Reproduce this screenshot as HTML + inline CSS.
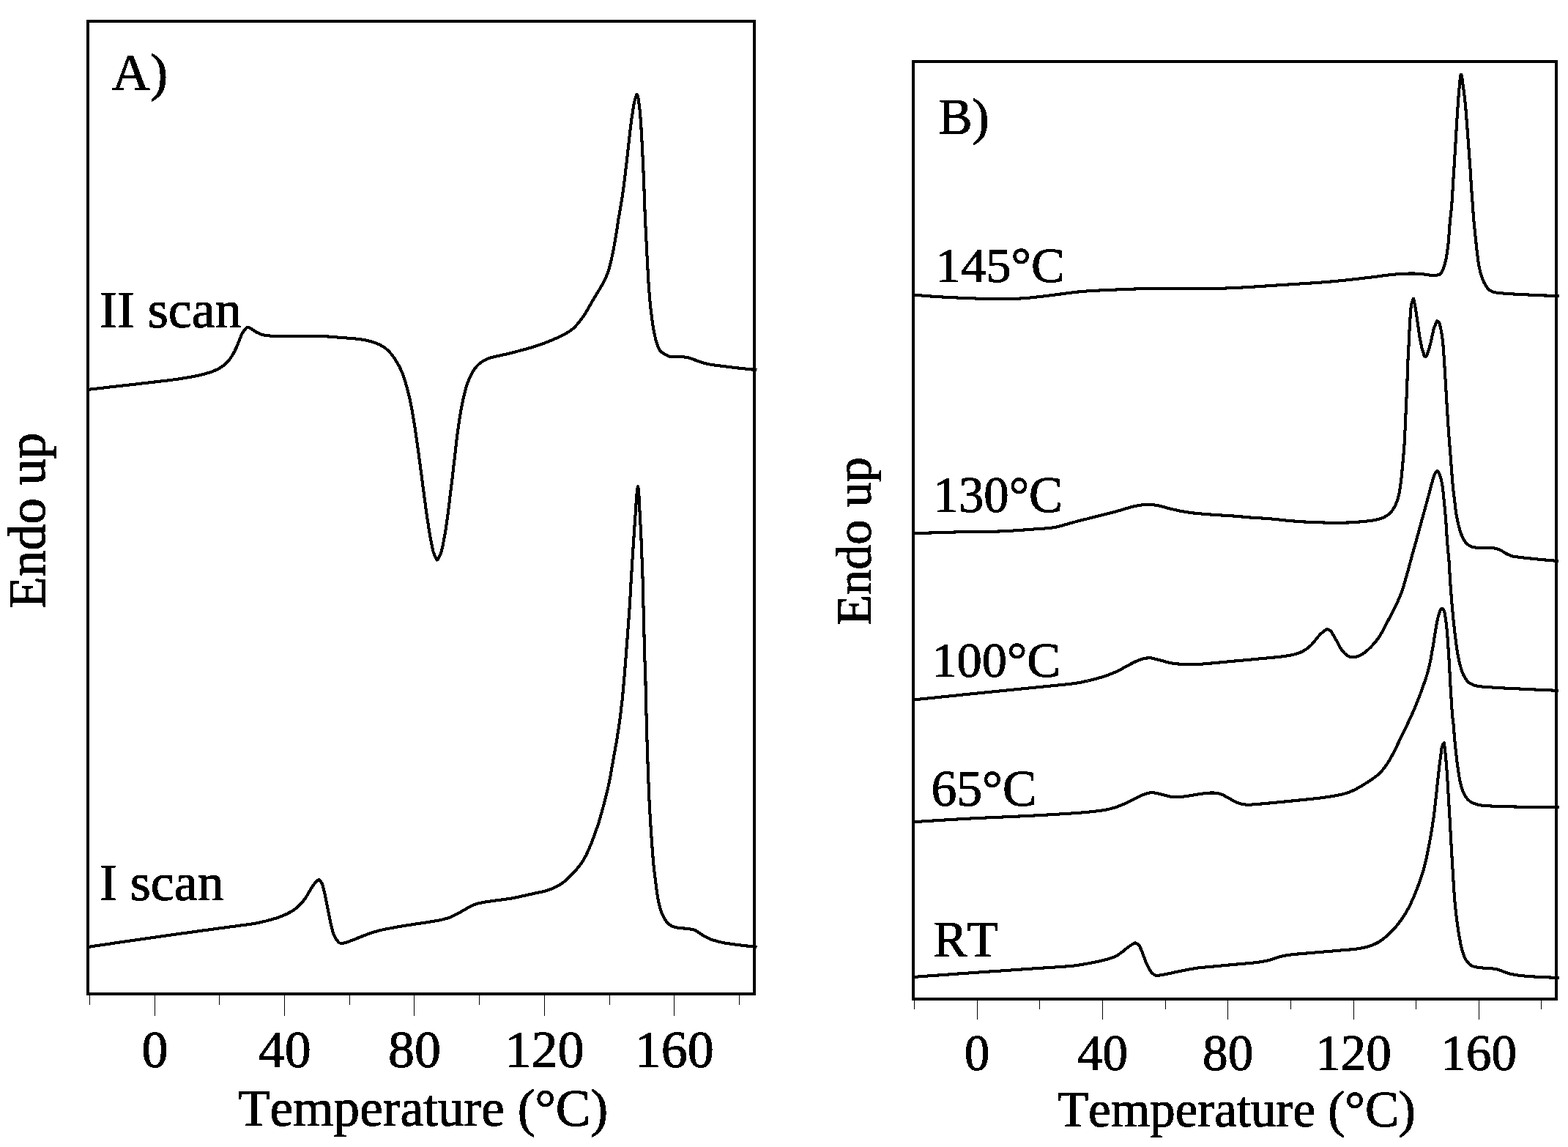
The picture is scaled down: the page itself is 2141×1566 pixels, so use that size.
<!DOCTYPE html>
<html lang="en">
<head>
<meta charset="utf-8">
<title>DSC thermograms</title>
<style>
html,body{margin:0;padding:0;background:#fff;}
body{width:2141px;height:1566px;overflow:hidden;}
svg{display:block;}
text{font-family:"Liberation Serif",serif;fill:#000;font-kerning:none;}
.frame{fill:none;stroke:#000;stroke-width:4;shape-rendering:crispEdges;}
.tick{fill:#000;shape-rendering:crispEdges;}
.curve{fill:none;stroke:#000;stroke-width:4.10;stroke-linejoin:round;stroke-linecap:butt;shape-rendering:crispEdges;}
text{filter:url(#bin);stroke:#000;stroke-width:1.1px;stroke-linejoin:round;}
</style>
</head>
<body>
<svg width="2141" height="1566" viewBox="0 0 2141 1566">
<rect x="0" y="0" width="2141" height="1566" fill="#fff"/>
<defs><filter id="bin" x="-5%" y="-20%" width="110%" height="140%" color-interpolation-filters="sRGB"><feComponentTransfer><feFuncA type="discrete" tableValues="0 1"/></feComponentTransfer></filter></defs>
<g id="panel-A">
<path class="curve" d="M120.0,531.9C121.7,531.7 126.6,531.2 129.9,530.8C133.2,530.4 136.6,530.0 139.9,529.7C143.2,529.3 146.5,528.9 149.8,528.5C153.1,528.2 156.4,527.8 159.7,527.4C163.1,527.0 166.4,526.6 169.7,526.3C173.0,525.9 176.3,525.5 179.6,525.1C182.9,524.8 186.2,524.4 189.6,524.0C192.9,523.6 196.2,523.2 199.5,522.9C202.8,522.5 206.1,522.1 209.4,521.7C212.7,521.3 216.0,520.9 219.4,520.5C222.7,520.2 226.0,519.8 229.3,519.4C232.6,519.0 235.9,518.5 239.2,518.1C242.5,517.6 245.8,517.1 249.1,516.6C252.4,516.1 255.7,515.5 258.9,514.9C262.2,514.3 265.5,513.8 268.8,513.1C272.0,512.4 275.3,511.7 278.5,510.8C281.7,509.9 284.9,509.0 288.1,507.9C291.2,506.7 294.3,505.5 297.3,504.0C300.2,502.5 303.1,500.7 305.7,498.6C308.3,496.6 310.7,494.2 312.8,491.6C314.9,489.1 316.6,486.2 318.3,483.3C320.0,480.5 321.4,477.5 322.8,474.4C324.2,471.4 325.3,468.2 326.6,465.2C327.8,462.1 328.7,458.8 330.3,456.0C331.9,453.1 334.9,449.3 336.2,447.8C337.4,446.4 337.4,447.3 338.0,447.2C338.6,447.1 339.2,447.1 339.9,447.3C340.5,447.4 341.0,447.6 341.7,448.0C342.5,448.4 342.8,448.8 344.3,449.7C345.7,450.7 347.9,452.5 350.5,453.8C353.1,455.1 356.5,456.6 359.7,457.4C362.9,458.2 366.3,458.4 369.6,458.6C372.9,458.9 376.2,458.8 379.6,458.9C382.9,458.9 386.2,458.9 389.6,458.9C392.9,458.9 396.2,459.0 399.6,459.0C402.9,459.0 406.2,459.0 409.6,459.0C412.9,459.0 416.2,459.0 419.6,459.0C422.9,459.0 426.2,459.0 429.6,459.1C432.9,459.1 436.2,459.1 439.6,459.2C442.9,459.3 446.2,459.4 449.6,459.6C452.9,459.8 456.2,460.1 459.5,460.4C462.9,460.7 466.2,461.0 469.5,461.2C472.8,461.5 476.2,461.7 479.5,462.0C482.8,462.3 486.1,462.5 489.4,462.9C492.7,463.3 496.0,463.8 499.3,464.5C502.6,465.2 505.8,465.9 509.0,466.9C512.1,467.9 515.3,469.1 518.3,470.6C521.2,472.0 524.1,473.8 526.7,475.8C529.3,477.9 531.7,480.3 533.8,482.8C536.0,485.3 537.8,488.1 539.7,490.9C541.5,493.7 543.2,496.6 544.8,499.5C546.4,502.4 547.7,505.5 549.0,508.6C550.3,511.7 551.4,514.8 552.4,518.0C553.5,521.1 554.4,524.4 555.2,527.6C556.1,530.8 556.9,534.0 557.7,537.3C558.5,540.5 559.3,543.7 560.0,547.0C560.7,550.3 561.3,553.5 561.9,556.8C562.6,560.1 563.1,563.4 563.7,566.6C564.3,569.9 564.9,573.2 565.4,576.5C565.9,579.8 566.5,583.1 567.0,586.4C567.5,589.7 567.9,593.0 568.4,596.3C568.9,599.6 569.3,602.9 569.8,606.2C570.2,609.5 570.7,612.8 571.1,616.1C571.6,619.4 572.0,622.7 572.5,626.0C572.9,629.3 573.4,632.6 573.8,635.9C574.2,639.2 574.7,642.5 575.1,645.8C575.6,649.1 576.0,652.4 576.4,655.7C576.9,659.0 577.3,662.3 577.7,665.7C578.2,669.0 578.6,672.3 579.0,675.6C579.5,678.9 579.9,682.2 580.4,685.5C580.8,688.8 581.2,692.1 581.7,695.4C582.2,698.7 582.6,702.0 583.1,705.3C583.6,708.6 584.1,711.9 584.6,715.2C585.1,718.5 585.6,721.8 586.1,725.1C586.6,728.4 587.2,731.6 587.8,734.9C588.4,738.2 589.0,741.5 589.7,744.7C590.4,748.0 590.9,751.2 591.9,754.4C593.0,757.6 595.4,762.2 596.3,763.8C597.1,765.4 596.6,764.1 596.8,764.1C597.0,764.2 597.2,764.1 597.4,764.0C597.6,763.9 597.7,763.8 597.9,763.5C598.1,763.3 598.3,763.0 598.5,762.7C598.7,762.4 598.8,762.3 599.1,761.7C599.3,761.2 599.6,760.8 600.1,759.6C600.6,758.4 601.5,756.9 602.2,754.4C603.0,751.9 603.9,747.9 604.6,744.7C605.3,741.5 605.8,738.2 606.5,734.9C607.1,731.6 607.7,728.4 608.2,725.1C608.8,721.8 609.3,718.5 609.7,715.2C610.2,711.9 610.6,708.6 611.1,705.3C611.5,702.0 612.0,698.7 612.4,695.4C612.8,692.1 613.2,688.7 613.6,685.4C614.0,682.1 614.4,678.8 614.8,675.5C615.2,672.2 615.6,668.9 616.0,665.6C616.4,662.3 616.8,659.0 617.2,655.7C617.6,652.3 618.0,649.0 618.4,645.7C618.8,642.4 619.2,639.1 619.5,635.8C619.9,632.5 620.3,629.2 620.7,625.9C621.1,622.5 621.4,619.2 621.8,615.9C622.2,612.6 622.5,609.3 622.9,606.0C623.3,602.7 623.7,599.4 624.1,596.1C624.5,592.7 624.9,589.4 625.4,586.1C625.8,582.8 626.3,579.5 626.8,576.2C627.3,572.9 627.8,569.7 628.4,566.4C628.9,563.1 629.4,559.8 630.0,556.5C630.7,553.2 631.3,550.0 632.1,546.7C632.8,543.5 633.5,540.2 634.3,537.0C635.2,533.7 636.0,530.5 637.0,527.3C638.0,524.2 639.1,521.0 640.4,517.9C641.7,514.9 643.0,511.8 644.7,508.9C646.3,506.0 648.2,503.2 650.4,500.7C652.6,498.2 655.1,495.9 657.8,494.1C660.6,492.2 663.7,490.8 666.7,489.6C669.8,488.3 673.1,487.6 676.3,486.8C679.6,486.0 682.9,485.4 686.1,484.7C689.4,484.0 692.6,483.2 695.8,482.4C699.1,481.6 702.3,480.8 705.5,479.9C708.7,479.1 712.0,478.2 715.2,477.4C718.4,476.5 721.6,475.6 724.8,474.6C728.0,473.7 731.2,472.7 734.3,471.6C737.5,470.6 740.7,469.5 743.8,468.3C746.9,467.1 750.0,465.9 753.1,464.6C756.1,463.3 759.2,462.0 762.2,460.6C765.2,459.2 768.3,457.8 771.2,456.2C774.1,454.6 777.1,452.9 779.7,450.9C782.3,448.9 784.8,446.6 787.0,444.1C789.3,441.7 791.4,439.0 793.4,436.3C795.4,433.7 797.2,430.9 799.0,428.1C800.8,425.3 802.4,422.4 804.1,419.5C805.8,416.6 807.3,413.6 809.0,410.8C810.7,407.9 812.5,405.1 814.2,402.2C815.9,399.4 817.7,396.6 819.4,393.7C821.1,390.8 822.8,387.9 824.3,385.0C825.8,382.0 827.3,379.0 828.5,375.9C829.8,372.8 830.8,369.6 831.7,366.4C832.7,363.2 833.4,360.0 834.2,356.7C835.0,353.5 835.7,350.2 836.4,347.0C837.0,343.7 837.7,340.4 838.3,337.2C838.9,333.9 839.5,330.6 840.1,327.3C840.6,324.0 841.2,320.8 841.7,317.5C842.3,314.2 842.7,310.9 843.2,307.6C843.7,304.3 844.2,301.0 844.7,297.7C845.3,294.4 845.9,291.1 846.5,287.8C847.0,284.6 847.6,281.3 848.2,278.0C848.7,274.7 849.2,271.4 849.7,268.1C850.2,264.8 850.6,261.5 851.1,258.2C851.6,254.9 852.0,251.6 852.4,248.3C852.8,245.0 853.2,241.7 853.6,238.4C854.0,235.1 854.4,231.8 854.8,228.4C855.2,225.1 855.6,221.8 855.9,218.5C856.3,215.2 856.7,211.9 857.1,208.6C857.4,205.3 857.8,201.9 858.2,198.6C858.6,195.3 858.9,192.0 859.3,188.7C859.7,185.4 860.0,182.1 860.4,178.8C860.8,175.4 861.2,172.1 861.6,168.8C862.0,165.5 862.5,162.2 862.9,158.9C863.4,155.6 864.0,152.3 864.5,149.0C865.0,145.8 865.5,142.5 866.2,139.2C867.0,136.0 868.4,131.3 869.0,129.7C869.5,128.0 869.4,129.4 869.6,129.5C869.7,129.5 869.9,129.7 870.1,129.9C870.3,130.1 870.4,130.5 870.6,130.8C870.7,131.1 870.9,131.5 871.0,131.8C871.1,132.2 871.2,132.3 871.3,132.8C871.4,133.3 871.5,133.7 871.6,134.8C871.8,136.0 872.0,137.2 872.3,139.6C872.6,142.1 873.2,146.2 873.5,149.5C873.9,152.8 874.2,156.2 874.4,159.5C874.7,162.8 874.9,166.1 875.1,169.5C875.4,172.8 875.6,176.1 875.7,179.4C875.9,182.8 876.1,186.1 876.3,189.4C876.5,192.8 876.7,196.1 876.8,199.4C877.0,202.7 877.2,206.1 877.3,209.4C877.5,212.7 877.7,216.1 877.8,219.4C878.0,222.7 878.2,226.0 878.3,229.4C878.5,232.7 878.6,236.0 878.7,239.4C878.9,242.7 879.0,246.0 879.1,249.4C879.3,252.7 879.4,256.0 879.5,259.4C879.6,262.7 879.7,266.0 879.8,269.3C879.9,272.7 880.0,276.0 880.2,279.3C880.3,282.7 880.4,286.0 880.6,289.3C880.7,292.7 880.9,296.0 881.0,299.3C881.2,302.7 881.3,306.0 881.5,309.3C881.7,312.6 881.8,316.0 882.0,319.3C882.1,322.6 882.3,326.0 882.5,329.3C882.7,332.6 882.8,335.9 883.0,339.3C883.2,342.6 883.3,345.9 883.5,349.3C883.7,352.6 883.9,355.9 884.0,359.2C884.2,362.6 884.4,365.9 884.6,369.2C884.8,372.6 884.9,375.9 885.1,379.2C885.3,382.5 885.5,385.9 885.7,389.2C886.0,392.5 886.2,395.8 886.5,399.2C886.7,402.5 887.0,405.8 887.3,409.1C887.6,412.5 887.9,415.8 888.3,419.1C888.6,422.4 889.0,425.7 889.4,429.0C889.8,432.3 890.2,435.6 890.7,438.9C891.1,442.2 891.6,445.5 892.2,448.8C892.8,452.1 893.4,455.4 894.2,458.6C894.9,461.9 895.6,465.2 896.7,468.3C897.7,471.4 899.3,475.3 900.5,477.5C901.8,479.6 902.3,479.9 904.3,481.4C906.4,482.9 910.6,485.5 912.8,486.3C915.0,487.2 915.3,486.5 917.8,486.6C920.2,486.8 924.4,486.9 927.7,487.1C931.0,487.3 934.5,487.3 937.7,487.9C940.8,488.5 943.6,489.6 946.7,490.7C949.8,491.7 952.9,493.1 956.1,494.2C959.2,495.2 962.5,496.1 965.7,496.9C968.9,497.6 972.3,498.0 975.6,498.5C978.9,499.0 982.2,499.4 985.5,499.8C988.8,500.2 992.1,500.6 995.4,501.0C998.7,501.4 1002.0,501.8 1005.3,502.2C1008.7,502.6 1012.0,502.9 1015.3,503.3C1018.6,503.6 1022.2,504.0 1025.2,504.3C1028.2,504.7 1032.0,505.0 1033.3,505.2"/>
<path class="curve" d="M120.0,1293.0C121.6,1292.8 126.6,1292.0 129.9,1291.5C133.2,1291.0 136.5,1290.5 139.8,1290.0C143.1,1289.6 146.4,1289.1 149.7,1288.6C153.0,1288.1 156.3,1287.6 159.6,1287.1C162.9,1286.6 166.2,1286.1 169.5,1285.7C172.8,1285.2 176.1,1284.7 179.4,1284.2C182.7,1283.7 186.0,1283.3 189.3,1282.8C192.6,1282.3 195.9,1281.8 199.2,1281.4C202.5,1280.9 205.8,1280.4 209.1,1280.0C212.4,1279.5 215.7,1279.0 219.0,1278.6C222.3,1278.1 225.6,1277.6 228.9,1277.2C232.2,1276.7 235.5,1276.3 238.8,1275.8C242.1,1275.3 245.4,1274.9 248.7,1274.4C252.0,1274.0 255.3,1273.5 258.6,1273.0C261.9,1272.6 265.2,1272.1 268.5,1271.6C271.8,1271.2 275.1,1270.7 278.4,1270.3C281.7,1269.8 285.0,1269.4 288.3,1268.9C291.6,1268.5 294.9,1268.0 298.2,1267.6C301.5,1267.2 304.8,1266.7 308.1,1266.3C311.4,1265.8 314.7,1265.4 318.0,1265.0C321.3,1264.5 324.6,1264.1 327.9,1263.6C331.2,1263.2 334.5,1262.8 337.8,1262.3C341.1,1261.8 344.4,1261.4 347.7,1260.8C351.0,1260.2 354.3,1259.5 357.5,1258.8C360.8,1258.1 364.0,1257.3 367.2,1256.4C370.5,1255.6 373.7,1254.7 376.8,1253.6C380.0,1252.6 383.1,1251.5 386.2,1250.2C389.3,1248.9 392.4,1247.5 395.3,1245.9C398.2,1244.3 401.1,1242.5 403.7,1240.5C406.3,1238.5 408.8,1236.2 411.1,1233.7C413.3,1231.3 415.3,1228.6 417.2,1225.9C419.1,1223.1 420.6,1220.2 422.4,1217.3C424.1,1214.5 425.6,1211.5 427.5,1208.8C429.5,1206.2 433.0,1202.8 434.3,1201.5C435.6,1200.3 434.9,1201.5 435.1,1201.5C435.4,1201.5 435.6,1201.6 435.9,1201.8C436.3,1202.0 436.8,1202.3 437.1,1202.6C437.5,1203.0 437.8,1203.3 438.2,1203.9C438.6,1204.5 439.1,1205.1 439.6,1206.2C440.1,1207.3 440.5,1208.3 441.1,1210.5C441.7,1212.7 442.6,1216.5 443.3,1219.6C444.0,1222.8 444.6,1226.2 445.3,1229.4C446.0,1232.7 446.6,1236.0 447.3,1239.2C447.9,1242.5 448.6,1245.8 449.2,1249.0C449.9,1252.3 450.5,1255.6 451.2,1258.8C451.9,1262.1 452.6,1265.4 453.5,1268.6C454.3,1271.8 455.2,1275.0 456.6,1278.0C458.0,1280.9 460.7,1284.7 462.1,1286.3C463.4,1287.9 463.9,1287.4 464.8,1287.7C465.8,1287.9 466.8,1287.9 467.8,1287.8C468.9,1287.7 469.3,1287.6 471.2,1287.1C473.1,1286.5 476.4,1285.5 479.3,1284.4C482.2,1283.4 485.5,1282.0 488.5,1280.7C491.6,1279.5 494.7,1278.2 497.8,1277.0C500.9,1275.8 504.1,1274.6 507.2,1273.6C510.4,1272.5 513.6,1271.6 516.8,1270.8C520.0,1269.9 523.3,1269.2 526.6,1268.5C529.8,1267.9 533.1,1267.3 536.4,1266.7C539.7,1266.1 543.0,1265.5 546.3,1264.9C549.5,1264.4 552.8,1263.8 556.1,1263.3C559.4,1262.8 562.7,1262.3 566.0,1261.8C569.3,1261.3 572.6,1260.8 575.9,1260.3C579.2,1259.8 582.5,1259.3 585.8,1258.8C589.1,1258.3 592.4,1257.8 595.6,1257.2C598.9,1256.6 602.2,1256.0 605.4,1255.2C608.7,1254.3 611.9,1253.4 615.0,1252.2C618.1,1251.0 621.1,1249.4 624.0,1247.9C627.0,1246.4 629.8,1244.6 632.7,1243.0C635.6,1241.3 638.4,1239.5 641.4,1238.0C644.4,1236.5 647.4,1235.1 650.6,1234.1C653.7,1233.1 657.0,1232.5 660.3,1231.9C663.6,1231.3 666.9,1230.9 670.2,1230.4C673.5,1229.9 676.8,1229.5 680.1,1229.1C683.4,1228.6 686.7,1228.2 690.0,1227.7C693.3,1227.3 696.6,1226.8 699.9,1226.2C703.2,1225.6 706.4,1224.9 709.7,1224.2C713.0,1223.5 716.2,1222.7 719.5,1222.0C722.7,1221.3 726.0,1220.5 729.2,1219.8C732.5,1219.1 735.8,1218.6 739.0,1217.8C742.2,1217.0 745.5,1216.3 748.6,1215.2C751.8,1214.2 754.9,1212.8 757.9,1211.4C760.9,1209.9 763.9,1208.4 766.6,1206.6C769.4,1204.7 771.9,1202.5 774.4,1200.3C776.9,1198.1 779.2,1195.7 781.5,1193.3C783.8,1190.9 786.1,1188.4 788.2,1185.8C790.3,1183.3 792.4,1180.7 794.3,1177.9C796.1,1175.2 797.8,1172.3 799.4,1169.3C801.0,1166.4 802.3,1163.4 803.7,1160.3C805.0,1157.3 806.2,1154.2 807.5,1151.1C808.7,1148.0 809.9,1144.8 811.0,1141.7C812.2,1138.6 813.3,1135.5 814.4,1132.3C815.5,1129.2 816.6,1126.0 817.6,1122.8C818.6,1119.6 819.5,1116.4 820.4,1113.2C821.4,1110.0 822.2,1106.8 823.1,1103.6C824.0,1100.4 824.8,1097.2 825.6,1093.9C826.5,1090.7 827.3,1087.5 828.1,1084.2C828.9,1081.0 829.7,1077.8 830.4,1074.5C831.1,1071.3 831.9,1068.0 832.5,1064.7C833.2,1061.5 833.7,1058.2 834.3,1054.9C834.9,1051.6 835.4,1048.3 836.0,1045.0C836.6,1041.8 837.2,1038.5 837.7,1035.2C838.3,1031.9 838.9,1028.6 839.5,1025.4C840.1,1022.1 840.7,1018.8 841.3,1015.5C841.8,1012.2 842.4,1008.9 842.9,1005.6C843.4,1002.4 844.0,999.1 844.5,995.8C844.9,992.5 845.4,989.2 845.9,985.9C846.3,982.6 846.8,979.3 847.2,976.0C847.6,972.6 848.1,969.3 848.4,966.0C848.8,962.7 849.2,959.4 849.6,956.1C849.9,952.8 850.2,949.5 850.5,946.1C850.9,942.8 851.1,939.5 851.4,936.2C851.7,932.9 852.0,929.5 852.3,926.2C852.6,922.9 852.9,919.6 853.1,916.2C853.4,912.9 853.6,909.6 853.9,906.3C854.2,903.0 854.4,899.6 854.7,896.3C854.9,893.0 855.2,889.7 855.4,886.3C855.7,883.0 855.9,879.7 856.2,876.4C856.4,873.0 856.7,869.7 856.9,866.4C857.2,863.1 857.4,859.7 857.7,856.4C857.9,853.1 858.2,849.8 858.4,846.5C858.7,843.1 858.9,839.8 859.2,836.5C859.4,833.2 859.6,829.8 859.8,826.5C860.0,823.2 860.2,819.8 860.4,816.5C860.6,813.2 860.8,809.9 861.0,806.5C861.1,803.2 861.3,799.9 861.5,796.5C861.7,793.2 861.9,789.9 862.1,786.6C862.3,783.2 862.5,779.9 862.7,776.6C862.9,773.3 863.1,769.9 863.3,766.6C863.5,763.3 863.8,760.0 864.0,756.6C864.2,753.3 864.4,750.0 864.6,746.6C864.9,743.3 865.1,740.0 865.3,736.7C865.5,733.3 865.7,730.0 865.9,726.7C866.2,723.4 866.4,720.0 866.6,716.7C866.9,713.4 867.1,710.1 867.3,706.7C867.5,703.4 867.8,700.1 868.0,696.8C868.2,693.4 868.4,690.1 868.6,686.8C868.8,683.5 869.0,680.2 869.3,676.8C869.6,673.4 870.2,668.5 870.4,666.7C870.7,664.8 870.6,665.9 870.6,665.5C870.7,665.2 870.8,664.9 870.8,664.7C870.9,664.5 870.9,664.4 871.0,664.4C871.1,664.4 871.1,664.5 871.2,664.7C871.3,664.9 871.3,665.2 871.4,665.6C871.5,665.9 871.5,666.3 871.6,666.7C871.7,667.1 871.7,667.6 871.8,668.0C871.8,668.3 871.9,668.5 871.9,669.1C872.0,669.7 872.1,669.5 872.2,671.6C872.3,673.6 872.5,678.1 872.7,681.5C872.8,684.8 873.0,688.1 873.2,691.4C873.3,694.8 873.5,698.1 873.7,701.4C873.9,704.8 874.0,708.1 874.2,711.4C874.4,714.7 874.6,718.1 874.8,721.4C875.0,724.7 875.2,728.1 875.3,731.4C875.5,734.7 875.6,738.0 875.7,741.4C875.9,744.7 876.0,748.0 876.1,751.4C876.2,754.7 876.3,758.0 876.5,761.4C876.6,764.7 876.8,768.0 876.9,771.4C877.0,774.7 877.1,778.0 877.3,781.3C877.4,784.7 877.5,788.0 877.6,791.3C877.7,794.7 877.7,798.0 877.8,801.3C877.9,804.7 878.0,808.0 878.1,811.3C878.2,814.7 878.2,818.0 878.3,821.3C878.4,824.7 878.5,828.0 878.6,831.3C878.7,834.7 878.8,838.0 878.9,841.3C879.0,844.7 879.1,848.0 879.1,851.3C879.2,854.7 879.3,858.0 879.4,861.3C879.4,864.6 879.5,868.0 879.6,871.3C879.6,874.6 879.7,878.0 879.8,881.3C879.9,884.6 879.9,888.0 880.0,891.3C880.2,894.6 880.3,898.0 880.4,901.3C880.6,904.6 880.8,908.0 880.9,911.3C881.0,914.6 881.1,918.0 881.2,921.3C881.3,924.6 881.4,927.9 881.5,931.3C881.5,934.6 881.6,937.9 881.7,941.3C881.8,944.6 881.9,947.9 881.9,951.3C882.0,954.6 882.1,957.9 882.2,961.3C882.3,964.6 882.3,967.9 882.4,971.3C882.5,974.6 882.6,977.9 882.7,981.3C882.8,984.6 882.8,987.9 882.9,991.3C883.0,994.6 883.1,997.9 883.2,1001.3C883.3,1004.6 883.4,1007.9 883.5,1011.3C883.6,1014.6 883.7,1017.9 883.8,1021.2C883.9,1024.6 884.0,1027.9 884.2,1031.2C884.3,1034.6 884.4,1037.9 884.5,1041.2C884.6,1044.6 884.7,1047.9 884.9,1051.2C885.0,1054.6 885.1,1057.9 885.2,1061.2C885.3,1064.6 885.5,1067.9 885.6,1071.2C885.7,1074.5 885.8,1077.9 886.0,1081.2C886.1,1084.5 886.3,1087.9 886.4,1091.2C886.6,1094.5 886.8,1097.9 886.9,1101.2C887.1,1104.5 887.3,1107.8 887.5,1111.2C887.7,1114.5 887.9,1117.8 888.1,1121.2C888.3,1124.5 888.5,1127.8 888.7,1131.1C888.9,1134.5 889.2,1137.8 889.4,1141.1C889.6,1144.4 889.8,1147.8 890.1,1151.1C890.3,1154.4 890.6,1157.7 890.8,1161.1C891.1,1164.4 891.3,1167.7 891.6,1171.0C891.9,1174.3 892.2,1177.7 892.5,1181.0C892.9,1184.3 893.2,1187.6 893.6,1190.9C894.0,1194.2 894.4,1197.6 894.8,1200.9C895.2,1204.2 895.6,1207.5 896.0,1210.8C896.5,1214.1 896.9,1217.4 897.4,1220.7C898.0,1224.0 898.5,1227.3 899.1,1230.5C899.8,1233.8 900.5,1237.1 901.5,1240.2C902.5,1243.4 903.4,1246.6 904.9,1249.6C906.3,1252.6 908.1,1255.8 910.0,1258.2C911.8,1260.5 913.9,1262.3 915.9,1263.6C917.9,1264.9 919.7,1265.5 921.8,1266.0C924.0,1266.6 925.9,1266.7 928.7,1267.0C931.6,1267.3 935.4,1267.6 938.7,1268.0C942.0,1268.5 946.1,1269.0 948.4,1269.7C950.8,1270.5 950.6,1271.0 952.7,1272.4C954.8,1273.7 958.2,1276.2 961.1,1277.9C964.0,1279.5 967.0,1280.9 970.1,1282.2C973.1,1283.4 976.4,1284.3 979.6,1285.2C982.8,1286.1 986.1,1286.8 989.3,1287.4C992.6,1288.1 995.9,1288.5 999.2,1288.9C1002.5,1289.4 1005.8,1289.8 1009.1,1290.2C1012.4,1290.6 1015.8,1291.0 1019.1,1291.4C1022.4,1291.8 1026.6,1292.3 1029.0,1292.6C1031.4,1292.9 1032.7,1293.1 1033.5,1293.2"/>
<rect class="frame" x="119.8" y="29.0" width="910.1" height="1327.8"/>
<rect class="tick" x="122" y="1358" width="1" height="14"/>
<rect class="tick" x="211" y="1358" width="1" height="29"/>
<rect class="tick" x="299" y="1358" width="1" height="14"/>
<rect class="tick" x="388" y="1358" width="1" height="29"/>
<rect class="tick" x="477" y="1358" width="1" height="14"/>
<rect class="tick" x="565" y="1358" width="1" height="29"/>
<rect class="tick" x="654" y="1358" width="1" height="14"/>
<rect class="tick" x="743" y="1358" width="1" height="29"/>
<rect class="tick" x="832" y="1358" width="1" height="14"/>
<rect class="tick" x="920" y="1358" width="1" height="29"/>
<rect class="tick" x="1009" y="1358" width="1" height="14"/>
<text x="211.5" y="1457.2" font-size="72" text-anchor="middle">0</text>
<text x="388.8" y="1457.2" font-size="72" text-anchor="middle">40</text>
<text x="566.1" y="1457.2" font-size="72" text-anchor="middle">80</text>
<text x="743.4" y="1457.2" font-size="72" text-anchor="middle">120</text>
<text x="920.7" y="1457.2" font-size="72" text-anchor="middle">160</text>
<text x="325.1" y="1537.4" font-size="71.22">Temperature (°C)</text>
<text transform="translate(61.3,830.9) rotate(-90)" font-size="71.52">Endo up</text>
<text x="152.5" y="123.1" font-size="72.60">A)</text>
<text x="135.8" y="446.7" font-size="72.08">II scan</text>
<text x="135.8" y="1228.9" font-size="71.99">I scan</text>
</g>
<g id="panel-B">
<path class="curve" d="M1247.0,402.5C1248.7,402.6 1253.6,403.1 1257.0,403.4C1260.3,403.7 1263.6,403.9 1266.9,404.2C1270.3,404.5 1273.6,404.7 1276.9,404.9C1280.2,405.1 1283.6,405.4 1286.9,405.5C1290.2,405.7 1293.5,405.9 1296.9,406.1C1300.2,406.2 1303.5,406.4 1306.9,406.5C1310.2,406.7 1313.5,406.8 1316.9,406.9C1320.2,407.1 1323.5,407.2 1326.8,407.3C1330.2,407.4 1333.5,407.6 1336.9,407.7C1340.2,407.8 1343.5,407.9 1346.9,408.0C1350.2,408.1 1353.5,408.1 1356.9,408.2C1360.2,408.2 1363.5,408.3 1366.9,408.2C1370.2,408.2 1373.5,408.2 1376.9,408.1C1380.2,408.1 1383.5,408.0 1386.9,407.8C1390.2,407.7 1393.5,407.5 1396.9,407.3C1400.2,407.1 1403.5,406.8 1406.8,406.5C1410.2,406.2 1413.5,405.8 1416.8,405.4C1420.1,405.1 1423.4,404.7 1426.7,404.3C1430.0,403.9 1433.3,403.4 1436.6,403.0C1439.9,402.6 1443.2,402.2 1446.5,401.7C1449.9,401.3 1453.1,400.8 1456.5,400.4C1459.8,399.9 1463.1,399.5 1466.4,399.1C1469.7,398.7 1473.0,398.4 1476.3,398.1C1479.6,397.8 1483.0,397.5 1486.3,397.3C1489.6,397.1 1493.0,396.9 1496.3,396.7C1499.6,396.6 1502.9,396.4 1506.3,396.3C1509.6,396.1 1512.9,396.0 1516.3,395.8C1519.6,395.7 1522.9,395.6 1526.3,395.4C1529.6,395.3 1532.9,395.1 1536.2,395.0C1539.6,394.9 1542.9,394.7 1546.2,394.6C1549.6,394.5 1552.9,394.4 1556.2,394.3C1559.6,394.2 1562.9,394.1 1566.2,394.0C1569.6,394.0 1572.9,393.9 1576.2,393.9C1579.6,393.9 1582.9,393.9 1586.2,393.9C1589.6,393.8 1592.9,393.8 1596.2,393.9C1599.6,393.9 1602.9,393.9 1606.2,393.9C1609.6,393.9 1612.9,393.9 1616.2,393.9C1619.6,393.9 1622.9,393.9 1626.2,393.9C1629.6,393.9 1632.9,393.9 1636.2,393.9C1639.6,393.9 1642.9,393.9 1646.2,393.9C1649.6,393.9 1652.9,393.9 1656.2,393.9C1659.6,393.8 1662.9,393.8 1666.2,393.7C1669.6,393.7 1672.9,393.6 1676.2,393.4C1679.6,393.3 1682.9,393.2 1686.2,393.0C1689.5,392.9 1692.9,392.7 1696.2,392.5C1699.5,392.3 1702.9,392.1 1706.2,391.9C1709.5,391.7 1712.8,391.5 1716.2,391.3C1719.5,391.1 1722.8,390.8 1726.1,390.6C1729.5,390.4 1732.8,390.2 1736.1,390.0C1739.5,389.7 1742.8,389.5 1746.1,389.3C1749.4,389.1 1752.8,388.9 1756.1,388.7C1759.4,388.5 1762.7,388.3 1766.1,388.1C1769.4,387.9 1772.7,387.7 1776.0,387.4C1779.4,387.2 1782.7,387.0 1786.0,386.8C1789.4,386.6 1792.7,386.3 1796.0,386.1C1799.3,385.9 1802.7,385.6 1806.0,385.4C1809.3,385.1 1812.6,384.9 1815.9,384.6C1819.3,384.3 1822.6,384.0 1825.9,383.7C1829.2,383.4 1832.5,383.0 1835.9,382.7C1839.2,382.3 1842.5,382.0 1845.8,381.6C1849.1,381.2 1852.4,380.8 1855.7,380.5C1859.0,380.1 1862.4,379.7 1865.7,379.3C1869.0,378.9 1872.3,378.5 1875.6,378.1C1878.9,377.7 1882.2,377.2 1885.5,376.8C1888.8,376.4 1892.1,375.9 1895.4,375.5C1898.7,375.2 1902.1,374.8 1905.4,374.5C1908.7,374.2 1912.0,374.0 1915.4,373.9C1918.7,373.7 1922.0,373.6 1925.3,373.5C1928.7,373.5 1932.0,373.5 1935.3,373.7C1938.7,373.9 1942.0,374.3 1945.3,374.6C1948.6,375.0 1951.9,375.8 1955.2,375.9C1958.5,376.0 1963.0,375.5 1965.0,375.1C1967.0,374.6 1966.6,373.9 1967.3,373.1C1968.1,372.3 1968.5,371.5 1969.3,370.0C1970.0,368.5 1971.0,366.6 1971.9,364.0C1972.7,361.4 1973.6,357.6 1974.3,354.4C1975.0,351.1 1975.5,347.8 1976.0,344.5C1976.5,341.2 1977.0,337.9 1977.3,334.6C1977.7,331.3 1978.0,328.0 1978.2,324.7C1978.5,321.3 1978.7,318.0 1978.9,314.7C1979.2,311.4 1979.4,308.0 1979.7,304.7C1980.0,301.4 1980.4,298.1 1980.7,294.8C1981.1,291.5 1981.5,288.2 1981.8,284.8C1982.1,281.5 1982.4,278.2 1982.6,274.9C1982.8,271.5 1983.0,268.2 1983.2,264.9C1983.4,261.6 1983.6,258.2 1983.8,254.9C1984.0,251.6 1984.2,248.3 1984.4,244.9C1984.6,241.6 1984.8,238.3 1985.1,234.9C1985.3,231.6 1985.5,228.3 1985.7,225.0C1985.9,221.6 1986.1,218.3 1986.3,215.0C1986.5,211.7 1986.7,208.3 1986.9,205.0C1987.1,201.7 1987.3,198.3 1987.5,195.0C1987.7,191.7 1987.9,188.4 1988.1,185.0C1988.3,181.7 1988.5,178.4 1988.7,175.1C1988.9,171.7 1989.1,168.4 1989.3,165.1C1989.5,161.7 1989.7,158.4 1989.9,155.1C1990.2,151.8 1990.4,148.4 1990.6,145.1C1990.8,141.8 1991.0,138.5 1991.3,135.1C1991.5,131.8 1991.8,128.5 1992.1,125.2C1992.4,121.9 1992.7,118.5 1993.0,115.2C1993.3,111.9 1993.8,107.5 1994.1,105.5C1994.3,103.5 1994.3,103.9 1994.4,103.4C1994.5,102.8 1994.6,102.6 1994.7,102.3C1994.8,102.0 1994.9,101.7 1995.0,101.6C1995.1,101.5 1995.2,101.5 1995.3,101.7C1995.4,101.8 1995.5,102.1 1995.6,102.4C1995.7,102.7 1995.8,103.1 1995.9,103.5C1996.0,103.9 1996.0,104.3 1996.1,104.6C1996.1,105.0 1996.2,105.2 1996.2,105.7C1996.3,106.2 1996.2,105.7 1996.5,107.6C1996.7,109.6 1997.3,114.1 1997.8,117.3C1998.2,120.6 1998.6,123.9 1999.1,127.2C1999.5,130.5 1999.9,133.9 2000.3,137.2C2000.6,140.5 2001.0,143.8 2001.3,147.1C2001.6,150.4 2001.8,153.8 2002.1,157.1C2002.3,160.4 2002.6,163.7 2002.8,167.1C2003.1,170.4 2003.3,173.7 2003.6,177.0C2003.8,180.4 2004.1,183.7 2004.3,187.0C2004.6,190.3 2004.8,193.6 2005.1,197.0C2005.3,200.3 2005.6,203.6 2005.8,206.9C2006.0,210.3 2006.3,213.6 2006.5,216.9C2006.8,220.2 2007.0,223.6 2007.3,226.9C2007.5,230.2 2007.7,233.5 2007.9,236.9C2008.1,240.2 2008.3,243.5 2008.5,246.9C2008.7,250.2 2009.0,253.5 2009.2,256.8C2009.4,260.2 2009.6,263.5 2009.9,266.8C2010.1,270.1 2010.3,273.5 2010.6,276.8C2010.8,280.1 2011.0,283.4 2011.3,286.8C2011.5,290.1 2011.8,293.4 2012.0,296.7C2012.3,300.0 2012.6,303.4 2012.9,306.7C2013.2,310.0 2013.6,313.3 2013.9,316.6C2014.2,320.0 2014.6,323.3 2014.9,326.6C2015.3,329.9 2015.6,333.2 2016.0,336.5C2016.4,339.8 2016.7,343.2 2017.1,346.5C2017.5,349.8 2017.9,353.1 2018.4,356.4C2018.9,359.7 2019.4,363.0 2020.1,366.2C2020.8,369.5 2021.5,372.8 2022.5,375.9C2023.4,379.1 2024.6,382.3 2026.1,385.2C2027.5,388.2 2029.5,391.6 2031.3,393.7C2033.0,395.8 2034.8,396.8 2036.6,397.7C2038.3,398.7 2039.7,398.9 2041.8,399.3C2043.9,399.8 2046.3,400.0 2049.2,400.2C2052.1,400.5 2055.8,400.8 2059.2,401.0C2062.5,401.3 2065.8,401.4 2069.1,401.6C2072.5,401.8 2075.8,402.0 2079.1,402.1C2082.5,402.3 2085.8,402.5 2089.1,402.6C2092.4,402.8 2095.8,403.0 2099.1,403.1C2102.4,403.2 2105.8,403.4 2109.1,403.5C2112.4,403.6 2115.8,403.7 2119.1,403.7C2122.3,403.8 2127.0,403.9 2128.6,403.9"/>
<path class="curve" d="M1247.0,728.4C1248.7,728.3 1253.7,728.1 1257.0,728.0C1260.3,727.9 1263.7,727.8 1267.0,727.6C1270.3,727.5 1273.6,727.4 1277.0,727.3C1280.3,727.2 1283.6,727.1 1287.0,727.0C1290.3,726.9 1293.6,726.8 1297.0,726.7C1300.3,726.6 1303.6,726.5 1307.0,726.4C1310.3,726.3 1313.6,726.2 1317.0,726.2C1320.3,726.1 1323.6,726.1 1327.0,726.1C1330.3,726.0 1333.6,726.0 1337.0,726.0C1340.3,725.9 1343.6,725.9 1347.0,725.9C1350.3,725.8 1353.6,725.8 1357.0,725.7C1360.3,725.6 1363.6,725.5 1367.0,725.4C1370.3,725.2 1373.6,725.1 1376.9,724.9C1380.3,724.7 1383.6,724.5 1386.9,724.3C1390.3,724.1 1393.6,723.8 1396.9,723.6C1400.2,723.4 1403.6,723.1 1406.9,722.9C1410.2,722.6 1413.5,722.4 1416.9,722.1C1420.2,721.9 1423.5,721.7 1426.8,721.5C1430.2,721.2 1433.5,721.0 1436.8,720.5C1440.1,720.0 1443.3,719.3 1446.6,718.5C1449.8,717.7 1453.0,716.7 1456.2,715.8C1459.4,714.9 1462.6,713.9 1465.8,713.1C1469.0,712.2 1472.3,711.4 1475.5,710.6C1478.7,709.8 1482.0,709.0 1485.2,708.2C1488.4,707.3 1491.7,706.5 1494.9,705.7C1498.1,704.9 1501.4,704.1 1504.6,703.3C1507.8,702.5 1511.1,701.7 1514.3,700.9C1517.5,700.0 1520.8,699.2 1524.0,698.3C1527.2,697.4 1530.4,696.4 1533.6,695.5C1536.8,694.5 1539.9,693.5 1543.2,692.7C1546.4,691.8 1549.6,691.0 1552.9,690.4C1556.2,689.8 1559.5,689.3 1562.8,689.1C1566.1,688.8 1569.5,688.8 1572.8,689.0C1576.1,689.3 1579.4,689.9 1582.6,690.6C1585.9,691.2 1589.0,692.3 1592.3,693.1C1595.5,694.0 1598.7,694.8 1602.0,695.5C1605.2,696.3 1608.5,697.0 1611.8,697.7C1615.0,698.3 1618.3,698.9 1621.6,699.4C1624.9,699.9 1628.2,700.3 1631.5,700.7C1634.8,701.0 1638.2,701.3 1641.5,701.6C1644.8,701.9 1648.1,702.2 1651.4,702.4C1654.8,702.7 1658.1,702.9 1661.4,703.1C1664.8,703.3 1668.1,703.5 1671.4,703.7C1674.7,703.9 1678.1,704.1 1681.4,704.3C1684.7,704.6 1688.0,704.8 1691.4,705.1C1694.7,705.4 1698.0,705.7 1701.3,706.0C1704.6,706.3 1708.0,706.6 1711.3,706.8C1714.6,707.0 1717.9,707.2 1721.3,707.4C1724.6,707.6 1727.9,707.8 1731.2,708.0C1734.6,708.3 1737.9,708.6 1741.2,709.0C1744.5,709.3 1747.8,709.7 1751.1,710.0C1754.5,710.4 1757.8,710.7 1761.1,711.0C1764.4,711.3 1767.7,711.6 1771.1,711.8C1774.4,712.1 1777.7,712.3 1781.0,712.5C1784.4,712.6 1787.7,712.8 1791.0,712.9C1794.4,713.1 1797.7,713.2 1801.0,713.3C1804.4,713.4 1807.7,713.5 1811.0,713.6C1814.4,713.7 1817.7,713.7 1821.0,713.8C1824.4,713.8 1827.7,713.8 1831.0,713.7C1834.4,713.7 1837.7,713.6 1841.0,713.5C1844.3,713.3 1847.7,713.1 1851.0,712.9C1854.3,712.7 1857.6,712.4 1861.0,712.1C1864.3,711.8 1867.6,711.4 1870.9,711.0C1874.2,710.5 1877.5,710.1 1880.7,709.3C1883.9,708.5 1887.3,707.6 1890.1,706.1C1893.0,704.7 1895.8,702.7 1898.0,700.6C1900.1,698.6 1901.6,696.5 1903.1,693.9C1904.7,691.3 1906.2,687.9 1907.4,684.8C1908.6,681.7 1909.3,678.5 1910.1,675.2C1910.8,672.0 1911.4,668.7 1911.9,665.4C1912.4,662.1 1912.8,658.8 1913.2,655.5C1913.6,652.2 1913.9,648.9 1914.2,645.6C1914.5,642.2 1914.8,638.9 1915.1,635.6C1915.4,632.3 1915.7,629.0 1916.0,625.6C1916.3,622.3 1916.6,619.0 1916.9,615.7C1917.1,612.3 1917.4,609.0 1917.6,605.7C1917.8,602.4 1918.0,599.0 1918.2,595.7C1918.3,592.4 1918.4,589.1 1918.6,585.7C1918.7,582.4 1918.9,579.1 1919.0,575.7C1919.2,572.4 1919.3,569.1 1919.5,565.7C1919.6,562.4 1919.8,559.1 1920.0,555.8C1920.1,552.4 1920.3,549.1 1920.4,545.8C1920.6,542.4 1920.7,539.1 1920.8,535.8C1921.0,532.4 1921.1,529.1 1921.2,525.8C1921.4,522.5 1921.5,519.1 1921.6,515.8C1921.7,512.5 1921.8,509.1 1921.9,505.8C1922.0,502.5 1922.1,499.1 1922.3,495.8C1922.4,492.5 1922.6,489.1 1922.8,485.8C1923.0,482.5 1923.1,479.2 1923.3,475.8C1923.5,472.5 1923.7,469.2 1923.8,465.8C1924.0,462.5 1924.1,459.2 1924.3,455.9C1924.5,452.5 1924.6,449.2 1924.8,445.9C1925.0,442.5 1925.2,439.2 1925.4,435.9C1925.6,432.6 1925.9,429.2 1926.1,425.9C1926.4,422.6 1926.5,419.0 1927.1,416.0C1927.7,413.1 1929.3,409.3 1929.8,408.1C1930.3,407.0 1930.1,408.7 1930.2,409.0C1930.4,409.4 1930.5,409.7 1930.6,410.1C1930.7,410.4 1930.7,410.7 1930.8,411.1C1930.9,411.6 1931.0,411.8 1931.1,412.6C1931.3,413.5 1931.5,414.2 1931.9,416.4C1932.3,418.7 1933.1,422.9 1933.6,426.2C1934.2,429.5 1934.6,432.8 1935.1,436.1C1935.6,439.4 1936.0,442.7 1936.4,446.0C1936.9,449.3 1937.3,452.6 1937.8,455.9C1938.3,459.2 1938.8,462.5 1939.5,465.7C1940.1,469.0 1940.8,472.3 1941.6,475.5C1942.5,478.7 1943.9,483.2 1944.5,485.0C1945.0,486.7 1944.8,485.6 1945.0,485.9C1945.2,486.2 1945.4,486.5 1945.6,486.7C1945.9,486.9 1946.1,487.0 1946.3,487.1C1946.5,487.1 1946.8,487.0 1947.0,486.8C1947.2,486.6 1947.4,486.3 1947.6,486.1C1947.8,485.8 1948.0,485.4 1948.1,485.1C1948.3,484.8 1948.4,484.6 1948.5,484.1C1948.7,483.7 1948.8,483.4 1949.2,482.2C1949.6,481.1 1950.2,479.6 1951.0,477.2C1951.7,474.8 1952.9,470.8 1953.6,467.6C1954.4,464.4 1955.0,461.1 1955.7,457.8C1956.4,454.6 1957.0,451.3 1958.0,448.2C1959.0,445.0 1961.0,440.7 1961.8,439.1C1962.5,437.5 1962.4,438.8 1962.6,438.8C1962.9,438.7 1963.2,438.8 1963.5,438.9C1963.8,439.0 1964.1,439.2 1964.3,439.4C1964.5,439.6 1964.8,439.9 1964.9,440.2C1965.1,440.5 1965.2,440.7 1965.4,441.1C1965.6,441.5 1965.7,441.9 1965.9,442.6C1966.1,443.3 1966.2,443.5 1966.6,445.5C1967.0,447.4 1967.8,451.1 1968.3,454.2C1968.8,457.3 1969.3,460.8 1969.7,464.1C1970.1,467.4 1970.5,470.7 1970.7,474.0C1971.0,477.3 1971.2,480.7 1971.4,484.0C1971.7,487.3 1971.9,490.6 1972.1,494.0C1972.3,497.3 1972.5,500.6 1972.7,504.0C1972.9,507.3 1973.1,510.6 1973.3,513.9C1973.5,517.3 1973.7,520.6 1973.9,523.9C1974.1,527.2 1974.3,530.6 1974.5,533.9C1974.7,537.2 1974.9,540.6 1975.1,543.9C1975.3,547.2 1975.5,550.5 1975.7,553.9C1975.9,557.2 1976.1,560.5 1976.3,563.8C1976.5,567.2 1976.7,570.5 1976.9,573.8C1977.2,577.2 1977.4,580.5 1977.6,583.8C1977.8,587.1 1978.1,590.5 1978.3,593.8C1978.6,597.1 1978.8,600.4 1979.1,603.7C1979.4,607.1 1979.6,610.4 1979.9,613.7C1980.2,617.0 1980.4,620.4 1980.7,623.7C1980.9,627.0 1981.2,630.3 1981.4,633.7C1981.7,637.0 1981.9,640.3 1982.2,643.6C1982.4,647.0 1982.7,650.3 1983.0,653.6C1983.2,656.9 1983.5,660.2 1983.8,663.6C1984.2,666.9 1984.5,670.2 1984.9,673.5C1985.3,676.8 1985.7,680.1 1986.1,683.4C1986.5,686.7 1986.9,690.1 1987.3,693.4C1987.7,696.7 1988.1,700.0 1988.7,703.3C1989.2,706.5 1989.9,709.8 1990.6,713.1C1991.3,716.3 1992.1,719.6 1993.1,722.8C1994.0,725.9 1995.0,729.2 1996.4,732.2C1997.8,735.1 1999.7,738.5 2001.4,740.7C2003.1,742.9 2004.9,744.1 2006.8,745.2C2008.6,746.3 2010.3,746.8 2012.3,747.2C2014.3,747.7 2016.0,747.7 2018.8,747.9C2021.5,748.0 2025.4,748.0 2028.7,748.0C2032.1,748.1 2035.5,747.6 2038.7,748.1C2042.0,748.5 2045.2,749.4 2048.2,750.7C2051.2,752.0 2053.7,754.5 2056.7,755.9C2059.6,757.4 2062.7,758.7 2065.9,759.5C2069.0,760.3 2072.4,760.5 2075.7,760.9C2079.0,761.3 2082.4,761.7 2085.7,762.0C2089.0,762.4 2092.3,762.8 2095.6,763.1C2098.9,763.4 2102.2,763.8 2105.6,764.1C2108.9,764.4 2112.3,764.7 2115.5,765.0C2118.8,765.3 2123.1,765.6 2125.2,765.8C2127.3,766.0 2127.7,766.0 2128.2,766.0"/>
<path class="curve" d="M1247.0,955.6C1248.7,955.4 1253.6,954.9 1256.9,954.5C1260.3,954.2 1263.6,953.9 1266.9,953.5C1270.2,953.2 1273.5,952.8 1276.8,952.5C1280.2,952.1 1283.5,951.8 1286.8,951.4C1290.1,951.1 1293.4,950.7 1296.7,950.4C1300.0,950.0 1303.4,949.7 1306.7,949.4C1310.0,949.0 1313.3,948.7 1316.6,948.3C1319.9,948.0 1323.3,947.7 1326.6,947.3C1329.9,947.0 1333.2,946.7 1336.5,946.3C1339.8,946.0 1343.2,945.6 1346.5,945.3C1349.8,945.0 1353.1,944.6 1356.4,944.3C1359.7,944.0 1363.1,943.6 1366.4,943.3C1369.7,943.0 1373.0,942.6 1376.3,942.3C1379.6,942.0 1383.0,941.7 1386.3,941.3C1389.6,941.0 1392.9,940.7 1396.2,940.3C1399.5,940.0 1402.9,939.7 1406.2,939.3C1409.5,939.0 1412.8,938.7 1416.1,938.3C1419.4,938.0 1422.8,937.7 1426.1,937.3C1429.4,937.0 1432.7,936.7 1436.0,936.4C1439.3,936.0 1442.7,935.7 1446.0,935.4C1449.3,935.1 1452.6,934.7 1455.9,934.4C1459.2,934.0 1462.6,933.7 1465.8,933.2C1469.1,932.7 1472.4,932.2 1475.7,931.6C1479.0,930.9 1482.2,930.2 1485.5,929.5C1488.7,928.7 1492.0,927.9 1495.2,927.1C1498.4,926.2 1501.7,925.3 1504.9,924.3C1508.1,923.3 1511.2,922.3 1514.3,921.1C1517.5,919.9 1520.5,918.7 1523.6,917.3C1526.6,915.9 1529.6,914.4 1532.5,912.8C1535.5,911.3 1538.3,909.5 1541.3,908.0C1544.2,906.4 1547.1,904.8 1550.2,903.4C1553.2,902.1 1556.3,900.6 1559.5,899.7C1562.7,898.9 1566.5,898.3 1569.3,898.2C1572.1,898.2 1573.4,898.8 1576.2,899.4C1578.9,900.0 1582.6,901.0 1585.9,901.9C1589.1,902.7 1592.2,903.8 1595.5,904.6C1598.7,905.3 1602.0,905.9 1605.3,906.2C1608.6,906.6 1612.0,906.7 1615.3,906.9C1618.6,907.0 1622.0,907.1 1625.3,907.1C1628.7,907.2 1632.0,907.2 1635.3,907.0C1638.6,906.9 1642.0,906.6 1645.3,906.3C1648.6,906.0 1651.9,905.7 1655.2,905.4C1658.6,905.1 1661.9,904.8 1665.2,904.5C1668.5,904.1 1671.8,903.8 1675.2,903.5C1678.5,903.2 1681.8,902.9 1685.1,902.6C1688.4,902.3 1691.8,902.0 1695.1,901.7C1698.4,901.4 1701.7,901.1 1705.0,900.8C1708.4,900.5 1711.7,900.2 1715.0,899.9C1718.3,899.6 1721.6,899.2 1725.0,898.9C1728.3,898.6 1731.6,898.3 1734.9,898.0C1738.2,897.7 1741.5,897.4 1744.9,897.0C1748.2,896.7 1751.5,896.3 1754.8,895.8C1758.1,895.3 1761.4,894.9 1764.6,894.1C1767.9,893.4 1771.1,892.6 1774.2,891.3C1777.3,890.1 1780.3,888.5 1783.1,886.7C1785.9,884.9 1788.4,882.6 1790.7,880.3C1793.1,878.0 1795.0,875.2 1797.1,872.6C1799.3,870.1 1801.2,867.3 1803.6,865.1C1806.0,862.9 1809.9,860.2 1811.5,859.3C1813.2,858.3 1812.8,859.3 1813.4,859.5C1814.1,859.7 1814.7,859.9 1815.3,860.3C1816.0,860.7 1816.8,861.2 1817.4,861.9C1818.0,862.6 1818.2,863.1 1819.0,864.4C1819.8,865.8 1820.9,867.6 1822.3,870.0C1823.6,872.4 1825.5,875.8 1827.1,878.7C1828.7,881.6 1830.1,884.7 1832.1,887.4C1834.1,890.0 1836.8,893.0 1838.9,894.7C1840.9,896.3 1842.9,896.7 1844.5,897.1C1846.2,897.5 1847.2,897.4 1848.9,897.2C1850.6,897.0 1852.6,896.7 1854.6,895.9C1856.7,895.1 1858.7,894.2 1861.1,892.6C1863.4,891.0 1866.3,888.6 1868.8,886.3C1871.2,884.1 1873.5,881.6 1875.7,879.1C1877.9,876.6 1880.1,874.0 1882.0,871.3C1883.9,868.6 1885.5,865.7 1887.2,862.8C1888.8,859.9 1890.3,856.9 1891.9,854.0C1893.4,851.0 1894.9,848.1 1896.5,845.1C1898.0,842.2 1899.5,839.2 1901.1,836.2C1902.6,833.3 1904.1,830.3 1905.6,827.3C1907.0,824.3 1908.5,821.3 1909.8,818.3C1911.2,815.2 1912.4,812.1 1913.6,809.0C1914.7,805.8 1915.7,802.7 1916.7,799.5C1917.7,796.3 1918.6,793.1 1919.5,789.9C1920.4,786.7 1921.3,783.4 1922.2,780.2C1923.1,777.0 1923.9,773.8 1924.8,770.6C1925.7,767.4 1926.6,764.1 1927.4,760.9C1928.3,757.7 1929.2,754.5 1930.1,751.3C1931.0,748.1 1931.9,744.9 1932.8,741.7C1933.7,738.4 1934.6,735.2 1935.5,732.0C1936.3,728.8 1937.2,725.6 1938.1,722.4C1939.0,719.2 1939.8,715.9 1940.7,712.7C1941.6,709.5 1942.5,706.3 1943.4,703.1C1944.3,699.9 1945.2,696.7 1946.1,693.4C1946.9,690.2 1947.8,687.0 1948.7,683.8C1949.5,680.6 1950.4,677.4 1951.3,674.1C1952.1,670.9 1953.0,667.7 1953.8,664.5C1954.7,661.3 1955.5,658.0 1956.5,654.9C1957.5,651.7 1959.1,647.3 1959.8,645.6C1960.5,643.8 1960.5,644.6 1960.8,644.2C1961.0,643.9 1961.3,643.7 1961.5,643.5C1961.8,643.4 1962.0,643.3 1962.3,643.2C1962.5,643.2 1962.8,643.3 1963.1,643.4C1963.3,643.6 1963.6,643.8 1963.8,644.1C1964.0,644.3 1964.2,644.6 1964.4,645.0C1964.6,645.4 1964.9,645.8 1965.1,646.4C1965.3,646.9 1965.3,647.0 1965.7,648.3C1966.1,649.5 1967.0,651.3 1967.6,653.8C1968.2,656.3 1969.0,660.3 1969.5,663.6C1970.0,666.8 1970.3,670.2 1970.7,673.5C1971.0,676.8 1971.4,680.1 1971.7,683.4C1972.0,686.8 1972.4,690.1 1972.7,693.4C1973.0,696.7 1973.3,700.0 1973.6,703.4C1973.9,706.7 1974.1,710.0 1974.4,713.3C1974.6,716.6 1974.8,720.0 1975.0,723.3C1975.2,726.6 1975.4,730.0 1975.7,733.3C1975.9,736.6 1976.1,739.9 1976.4,743.3C1976.7,746.6 1977.0,749.9 1977.3,753.2C1977.6,756.5 1978.0,759.8 1978.3,763.2C1978.6,766.5 1978.8,769.8 1979.0,773.1C1979.2,776.5 1979.3,779.8 1979.5,783.1C1979.7,786.4 1979.9,789.8 1980.1,793.1C1980.3,796.4 1980.6,799.8 1980.8,803.1C1981.1,806.4 1981.4,809.7 1981.6,813.0C1981.9,816.4 1982.2,819.7 1982.4,823.0C1982.7,826.3 1983.0,829.7 1983.3,833.0C1983.6,836.3 1983.9,839.6 1984.2,842.9C1984.5,846.3 1984.9,849.6 1985.2,852.9C1985.6,856.2 1985.9,859.5 1986.3,862.8C1986.7,866.1 1987.0,869.5 1987.5,872.8C1987.9,876.1 1988.3,879.4 1988.8,882.7C1989.3,886.0 1989.8,889.3 1990.4,892.5C1991.0,895.8 1991.6,899.1 1992.3,902.3C1993.0,905.6 1993.8,908.8 1994.8,912.0C1995.8,915.2 1996.7,918.4 1998.2,921.4C1999.6,924.4 2001.8,927.9 2003.5,929.9C2005.2,931.9 2006.3,932.4 2008.2,933.5C2010.2,934.6 2012.7,935.6 2015.2,936.3C2017.8,936.9 2020.5,937.1 2023.6,937.5C2026.6,937.8 2030.2,938.0 2033.6,938.2C2036.9,938.5 2040.2,938.7 2043.5,938.9C2046.9,939.1 2050.2,939.3 2053.5,939.5C2056.8,939.6 2060.2,939.8 2063.5,940.0C2066.8,940.1 2070.2,940.3 2073.5,940.4C2076.8,940.6 2080.1,940.8 2083.5,940.9C2086.8,941.1 2090.1,941.2 2093.5,941.4C2096.8,941.6 2100.1,941.7 2103.5,941.9C2106.8,942.0 2110.1,942.2 2113.4,942.3C2116.8,942.4 2120.8,942.6 2123.3,942.7C2125.8,942.8 2127.5,942.8 2128.3,942.9"/>
<path class="curve" d="M1247.0,1122.3C1248.7,1122.2 1253.7,1121.8 1257.0,1121.6C1260.3,1121.4 1263.6,1121.2 1267.0,1121.0C1270.3,1120.8 1273.6,1120.5 1276.9,1120.3C1280.3,1120.1 1283.6,1119.9 1286.9,1119.7C1290.2,1119.5 1293.6,1119.3 1296.9,1119.1C1300.2,1118.9 1303.6,1118.7 1306.9,1118.5C1310.2,1118.3 1313.5,1118.2 1316.9,1118.0C1320.2,1117.8 1323.5,1117.6 1326.9,1117.4C1330.2,1117.3 1333.5,1117.1 1336.8,1117.0C1340.2,1116.8 1343.5,1116.6 1346.8,1116.5C1350.2,1116.3 1353.5,1116.2 1356.8,1116.0C1360.1,1115.9 1363.5,1115.8 1366.8,1115.6C1370.1,1115.5 1373.5,1115.3 1376.8,1115.2C1380.1,1115.0 1383.5,1114.9 1386.8,1114.7C1390.1,1114.6 1393.5,1114.4 1396.8,1114.3C1400.1,1114.1 1403.4,1113.9 1406.8,1113.8C1410.1,1113.6 1413.4,1113.4 1416.8,1113.2C1420.1,1113.1 1423.4,1112.9 1426.7,1112.7C1430.1,1112.5 1433.4,1112.3 1436.7,1112.1C1440.0,1111.9 1443.4,1111.7 1446.7,1111.5C1450.0,1111.3 1453.4,1111.1 1456.7,1110.9C1460.0,1110.7 1463.3,1110.5 1466.7,1110.2C1470.0,1110.0 1473.3,1109.7 1476.6,1109.5C1480.0,1109.2 1483.3,1108.9 1486.6,1108.6C1489.9,1108.2 1493.2,1107.9 1496.5,1107.5C1499.9,1107.2 1503.2,1106.8 1506.5,1106.2C1509.8,1105.7 1513.0,1105.1 1516.3,1104.2C1519.5,1103.4 1522.7,1102.4 1525.9,1101.3C1529.0,1100.2 1532.1,1098.8 1535.1,1097.5C1538.2,1096.1 1541.2,1094.7 1544.2,1093.2C1547.2,1091.8 1550.1,1090.2 1553.1,1088.8C1556.1,1087.3 1559.0,1085.6 1562.2,1084.5C1565.3,1083.3 1569.2,1082.3 1571.9,1082.0C1574.6,1081.8 1575.6,1082.3 1578.3,1082.8C1581.0,1083.3 1584.8,1084.2 1588.0,1085.0C1591.2,1085.8 1594.4,1087.0 1597.7,1087.5C1600.9,1088.1 1604.3,1088.4 1607.6,1088.4C1610.9,1088.4 1614.2,1087.8 1617.5,1087.4C1620.9,1087.0 1624.1,1086.4 1627.4,1085.9C1630.7,1085.3 1634.0,1084.7 1637.3,1084.3C1640.6,1083.8 1643.9,1083.3 1647.2,1083.0C1650.5,1082.7 1653.9,1082.3 1657.2,1082.5C1660.5,1082.7 1663.9,1083.2 1667.0,1084.2C1670.0,1085.1 1672.6,1086.9 1675.5,1088.4C1678.4,1089.9 1681.2,1091.8 1684.2,1093.3C1687.2,1094.7 1690.2,1096.3 1693.4,1097.3C1696.5,1098.2 1699.9,1098.6 1703.2,1098.8C1706.5,1098.9 1709.8,1098.5 1713.2,1098.2C1716.5,1098.0 1719.8,1097.7 1723.1,1097.4C1726.4,1097.1 1729.8,1096.8 1733.1,1096.5C1736.4,1096.2 1739.7,1095.9 1743.0,1095.6C1746.4,1095.2 1749.7,1094.9 1753.0,1094.6C1756.3,1094.3 1759.6,1094.0 1763.0,1093.6C1766.3,1093.3 1769.6,1093.0 1772.9,1092.6C1776.2,1092.3 1779.5,1092.0 1782.9,1091.6C1786.2,1091.3 1789.5,1091.0 1792.8,1090.6C1796.1,1090.3 1799.4,1089.9 1802.7,1089.5C1806.0,1089.0 1809.3,1088.6 1812.6,1088.1C1815.9,1087.6 1819.2,1087.1 1822.5,1086.5C1825.8,1085.9 1829.1,1085.3 1832.3,1084.5C1835.6,1083.7 1838.8,1082.8 1841.9,1081.7C1845.0,1080.5 1848.1,1079.1 1851.0,1077.6C1854.0,1076.0 1856.9,1074.3 1859.8,1072.6C1862.7,1070.9 1865.5,1069.1 1868.2,1067.3C1871.0,1065.5 1873.8,1063.7 1876.5,1061.7C1879.2,1059.7 1881.8,1057.7 1884.2,1055.3C1886.6,1053.0 1888.6,1050.4 1890.7,1047.7C1892.7,1045.1 1894.5,1042.3 1896.3,1039.5C1898.0,1036.6 1899.6,1033.7 1901.2,1030.7C1902.7,1027.8 1904.2,1024.8 1905.7,1021.8C1907.2,1018.8 1908.6,1015.8 1910.1,1012.8C1911.5,1009.8 1913.0,1006.8 1914.4,1003.8C1915.9,1000.8 1917.3,997.8 1918.8,994.8C1920.2,991.8 1921.7,988.8 1923.1,985.8C1924.5,982.8 1925.9,979.8 1927.3,976.7C1928.7,973.7 1930.0,970.6 1931.3,967.6C1932.6,964.5 1933.8,961.4 1935.1,958.3C1936.3,955.2 1937.6,952.1 1938.8,949.0C1939.9,945.9 1941.1,942.8 1942.2,939.6C1943.3,936.5 1944.4,933.3 1945.5,930.2C1946.5,927.0 1947.6,923.9 1948.6,920.7C1949.5,917.5 1950.4,914.3 1951.2,911.0C1952.0,907.8 1952.6,904.5 1953.3,901.2C1953.9,898.0 1954.5,894.7 1955.1,891.4C1955.7,888.1 1956.2,884.8 1956.8,881.6C1957.3,878.3 1957.9,875.0 1958.4,871.7C1958.9,868.4 1959.4,865.1 1959.9,861.8C1960.5,858.5 1961.0,855.2 1961.6,851.9C1962.3,848.7 1962.9,845.4 1963.7,842.2C1964.6,839.0 1966.0,834.6 1966.7,832.8C1967.3,831.0 1967.3,831.8 1967.5,831.5C1967.8,831.1 1968.0,831.0 1968.3,830.8C1968.6,830.7 1968.9,830.6 1969.1,830.6C1969.4,830.6 1969.7,830.7 1969.9,830.9C1970.2,831.1 1970.4,831.3 1970.6,831.6C1970.9,831.8 1971.0,832.1 1971.2,832.5C1971.4,832.9 1971.6,833.4 1971.8,833.9C1972.0,834.5 1972.0,834.8 1972.3,835.9C1972.5,836.9 1972.7,837.8 1973.1,840.2C1973.5,842.5 1974.2,846.7 1974.6,850.0C1975.0,853.3 1975.4,856.6 1975.7,860.0C1976.0,863.3 1976.2,866.6 1976.5,869.9C1976.7,873.3 1976.9,876.6 1977.2,879.9C1977.4,883.2 1977.6,886.6 1977.9,889.9C1978.1,893.2 1978.3,896.5 1978.5,899.9C1978.7,903.2 1978.9,906.5 1979.1,909.8C1979.3,913.2 1979.4,916.5 1979.6,919.8C1979.8,923.2 1980.0,926.5 1980.1,929.8C1980.3,933.1 1980.5,936.5 1980.7,939.8C1980.9,943.1 1981.1,946.5 1981.3,949.8C1981.5,953.1 1981.7,956.4 1981.9,959.8C1982.1,963.1 1982.3,966.4 1982.6,969.7C1982.8,973.1 1983.0,976.4 1983.4,979.7C1983.7,983.0 1984.3,986.3 1984.6,989.6C1985.0,992.9 1985.2,996.2 1985.4,999.5C1985.7,1002.9 1985.9,1006.2 1986.2,1009.5C1986.5,1012.8 1986.9,1016.1 1987.2,1019.5C1987.6,1022.8 1987.9,1026.1 1988.3,1029.4C1988.6,1032.7 1989.0,1036.0 1989.4,1039.3C1989.8,1042.7 1990.2,1046.0 1990.7,1049.3C1991.2,1052.6 1991.6,1055.9 1992.2,1059.1C1992.7,1062.4 1993.3,1065.7 1994.1,1068.9C1994.9,1072.2 1995.8,1075.4 1996.9,1078.5C1998.1,1081.6 1999.4,1084.9 2001.1,1087.6C2002.8,1090.2 2005.2,1092.6 2007.2,1094.2C2009.2,1095.8 2010.4,1096.2 2013.0,1097.1C2015.6,1098.0 2019.4,1099.0 2022.6,1099.6C2025.9,1100.1 2029.3,1100.1 2032.6,1100.3C2035.9,1100.6 2039.2,1100.7 2042.6,1100.8C2045.9,1101.0 2049.2,1101.1 2052.6,1101.2C2055.9,1101.3 2059.2,1101.3 2062.6,1101.4C2065.9,1101.4 2069.2,1101.5 2072.6,1101.6C2075.9,1101.6 2079.2,1101.7 2082.6,1101.8C2085.9,1101.8 2089.2,1101.9 2092.6,1101.9C2095.9,1102.0 2099.2,1102.0 2102.6,1102.1C2105.9,1102.1 2109.2,1102.2 2112.6,1102.2C2115.9,1102.2 2119.9,1102.3 2122.6,1102.3C2125.2,1102.3 2127.6,1102.3 2128.6,1102.3"/>
<path class="curve" d="M1247.0,1334.0C1248.7,1333.9 1253.6,1333.5 1257.0,1333.3C1260.3,1333.0 1263.6,1332.8 1266.9,1332.5C1270.3,1332.3 1273.6,1332.0 1276.9,1331.8C1280.2,1331.6 1283.6,1331.3 1286.9,1331.1C1290.2,1330.8 1293.5,1330.6 1296.9,1330.4C1300.2,1330.1 1303.5,1329.9 1306.8,1329.6C1310.2,1329.4 1313.5,1329.2 1316.8,1328.9C1320.1,1328.7 1323.5,1328.5 1326.8,1328.2C1330.1,1328.0 1333.4,1327.8 1336.8,1327.5C1340.1,1327.3 1343.4,1327.1 1346.7,1326.8C1350.1,1326.6 1353.4,1326.4 1356.7,1326.1C1360.0,1325.9 1363.4,1325.7 1366.7,1325.5C1370.0,1325.2 1373.3,1325.0 1376.7,1324.8C1380.0,1324.5 1383.3,1324.3 1386.6,1324.1C1390.0,1323.9 1393.3,1323.6 1396.6,1323.4C1400.0,1323.2 1403.3,1322.9 1406.6,1322.7C1409.9,1322.5 1413.3,1322.3 1416.6,1322.0C1419.9,1321.8 1423.2,1321.6 1426.6,1321.4C1429.9,1321.2 1433.2,1321.0 1436.5,1320.8C1439.9,1320.5 1443.2,1320.3 1446.5,1320.1C1449.8,1319.9 1453.2,1319.7 1456.5,1319.4C1459.8,1319.2 1463.1,1318.9 1466.4,1318.5C1469.7,1318.1 1473.0,1317.6 1476.3,1317.1C1479.6,1316.6 1482.9,1315.9 1486.2,1315.3C1489.5,1314.7 1492.7,1314.1 1496.0,1313.4C1499.3,1312.7 1502.6,1312.1 1505.8,1311.3C1509.0,1310.5 1512.3,1309.8 1515.4,1308.7C1518.6,1307.6 1521.8,1306.4 1524.7,1304.9C1527.6,1303.3 1530.2,1301.2 1532.9,1299.2C1535.6,1297.2 1538.0,1294.9 1540.7,1292.9C1543.3,1291.0 1547.3,1288.6 1549.0,1287.7C1550.7,1286.8 1550.3,1287.7 1551.0,1287.8C1551.6,1287.9 1552.2,1288.1 1552.8,1288.5C1553.5,1288.9 1554.2,1289.5 1554.8,1290.2C1555.4,1290.9 1555.9,1291.7 1556.5,1292.8C1557.1,1294.0 1557.6,1295.0 1558.5,1297.3C1559.4,1299.6 1560.9,1303.5 1562.0,1306.6C1563.2,1309.7 1564.3,1312.9 1565.7,1315.9C1567.0,1318.9 1568.6,1322.4 1570.2,1324.8C1571.7,1327.1 1573.5,1328.8 1574.9,1330.0C1576.3,1331.2 1577.4,1331.5 1578.5,1331.8C1579.7,1332.1 1580.3,1331.9 1581.5,1331.8C1582.7,1331.7 1583.5,1331.6 1585.9,1331.2C1588.3,1330.7 1592.4,1329.9 1595.7,1329.3C1599.0,1328.6 1602.2,1327.8 1605.5,1327.1C1608.7,1326.4 1612.0,1325.8 1615.3,1325.1C1618.5,1324.4 1621.8,1323.8 1625.1,1323.2C1628.4,1322.6 1631.7,1322.1 1635.0,1321.6C1638.3,1321.2 1641.6,1320.9 1644.9,1320.6C1648.2,1320.2 1651.5,1320.0 1654.9,1319.7C1658.2,1319.4 1661.5,1319.1 1664.8,1318.8C1668.1,1318.5 1671.5,1318.1 1674.8,1317.8C1678.1,1317.5 1681.4,1317.2 1684.7,1316.9C1688.1,1316.6 1691.4,1316.3 1694.7,1316.0C1698.0,1315.7 1701.3,1315.5 1704.7,1315.1C1708.0,1314.8 1711.3,1314.6 1714.6,1314.2C1717.9,1313.8 1721.2,1313.4 1724.5,1312.8C1727.8,1312.2 1731.0,1311.4 1734.2,1310.5C1737.4,1309.6 1740.6,1308.3 1743.8,1307.4C1746.9,1306.4 1750.1,1305.5 1753.4,1304.8C1756.6,1304.1 1760.0,1303.8 1763.3,1303.4C1766.6,1303.0 1769.9,1302.7 1773.2,1302.4C1776.5,1302.1 1779.9,1301.8 1783.2,1301.6C1786.5,1301.3 1789.8,1301.0 1793.1,1300.7C1796.5,1300.4 1799.8,1300.2 1803.1,1299.9C1806.4,1299.6 1809.8,1299.3 1813.1,1299.0C1816.4,1298.8 1819.7,1298.5 1823.0,1298.2C1826.4,1297.9 1829.7,1297.6 1833.0,1297.3C1836.3,1297.1 1839.7,1296.8 1843.0,1296.5C1846.3,1296.2 1849.6,1296.0 1852.9,1295.5C1856.2,1295.0 1859.5,1294.5 1862.7,1293.7C1866.0,1293.0 1869.2,1292.1 1872.4,1290.9C1875.5,1289.8 1878.5,1288.4 1881.4,1286.8C1884.3,1285.1 1887.1,1283.2 1889.7,1281.1C1892.4,1279.1 1894.8,1276.9 1897.3,1274.6C1899.7,1272.3 1902.0,1269.8 1904.2,1267.3C1906.4,1264.9 1908.5,1262.3 1910.5,1259.6C1912.5,1257.0 1914.5,1254.3 1916.3,1251.5C1918.2,1248.7 1919.9,1245.9 1921.5,1242.9C1923.2,1240.0 1924.7,1237.0 1926.1,1234.0C1927.5,1231.0 1928.9,1228.0 1930.2,1224.9C1931.5,1221.9 1932.8,1218.8 1934.0,1215.7C1935.2,1212.6 1936.4,1209.5 1937.5,1206.3C1938.7,1203.2 1939.8,1200.1 1940.8,1196.9C1941.9,1193.7 1942.8,1190.5 1943.8,1187.3C1944.7,1184.1 1945.5,1180.9 1946.3,1177.6C1947.1,1174.4 1947.8,1171.1 1948.5,1167.9C1949.2,1164.6 1949.8,1161.3 1950.4,1158.1C1951.1,1154.8 1951.7,1151.5 1952.3,1148.2C1952.9,1145.0 1953.4,1141.7 1954.0,1138.4C1954.5,1135.1 1955.1,1131.8 1955.6,1128.5C1956.1,1125.2 1956.7,1121.9 1957.2,1118.6C1957.7,1115.3 1958.1,1112.0 1958.5,1108.7C1958.9,1105.4 1959.3,1102.1 1959.6,1098.8C1960.0,1095.5 1960.3,1092.2 1960.7,1088.9C1961.0,1085.5 1961.4,1082.2 1961.8,1078.9C1962.1,1075.6 1962.5,1072.3 1962.8,1069.0C1963.2,1065.7 1963.5,1062.3 1963.9,1059.0C1964.3,1055.7 1964.6,1052.4 1965.0,1049.1C1965.4,1045.8 1965.8,1042.5 1966.2,1039.2C1966.7,1035.9 1967.1,1032.5 1967.6,1029.3C1968.0,1026.0 1968.3,1022.0 1969.0,1019.5C1969.7,1017.1 1971.1,1015.2 1971.6,1014.6C1972.1,1013.9 1971.8,1015.3 1971.9,1015.7C1972.0,1016.0 1972.1,1016.3 1972.2,1016.7C1972.2,1017.2 1972.3,1017.5 1972.4,1018.3C1972.5,1019.1 1972.6,1019.4 1972.8,1021.6C1973.1,1023.8 1973.5,1028.2 1973.8,1031.5C1974.1,1034.8 1974.5,1038.1 1974.7,1041.5C1975.0,1044.8 1975.3,1048.1 1975.5,1051.4C1975.7,1054.7 1976.0,1058.1 1976.2,1061.4C1976.4,1064.7 1976.6,1068.1 1976.8,1071.4C1977.0,1074.7 1977.2,1078.0 1977.4,1081.4C1977.6,1084.7 1977.8,1088.0 1978.0,1091.3C1978.2,1094.7 1978.4,1098.0 1978.6,1101.3C1978.8,1104.7 1979.0,1108.0 1979.2,1111.3C1979.4,1114.6 1979.6,1118.0 1979.8,1121.3C1979.9,1124.6 1980.1,1127.9 1980.3,1131.3C1980.5,1134.6 1980.7,1137.9 1980.9,1141.3C1981.1,1144.6 1981.3,1147.9 1981.4,1151.2C1981.6,1154.6 1981.8,1157.9 1982.0,1161.2C1982.2,1164.6 1982.4,1167.9 1982.6,1171.2C1982.8,1174.5 1983.0,1177.9 1983.2,1181.2C1983.4,1184.5 1983.6,1187.9 1983.8,1191.2C1984.0,1194.5 1984.2,1197.8 1984.4,1201.2C1984.6,1204.5 1984.8,1207.8 1985.0,1211.1C1985.2,1214.5 1985.5,1217.8 1985.7,1221.1C1985.9,1224.4 1986.2,1227.8 1986.5,1231.1C1986.7,1234.4 1987.1,1237.7 1987.4,1241.0C1987.8,1244.4 1988.2,1247.7 1988.6,1251.0C1989.0,1254.3 1989.4,1257.6 1989.9,1260.9C1990.3,1264.2 1990.8,1267.5 1991.3,1270.8C1991.8,1274.1 1992.3,1277.4 1992.9,1280.7C1993.5,1283.9 1994.1,1287.2 1994.8,1290.5C1995.6,1293.7 1996.4,1297.0 1997.4,1300.1C1998.4,1303.3 1999.5,1306.8 2001.0,1309.4C2002.4,1312.0 2004.2,1314.2 2005.9,1315.9C2007.6,1317.5 2009.6,1318.6 2011.4,1319.3C2013.2,1320.1 2014.2,1320.1 2016.7,1320.5C2019.3,1320.9 2023.3,1321.4 2026.6,1321.7C2029.9,1322.0 2033.3,1322.0 2036.6,1322.3C2039.9,1322.7 2043.5,1323.2 2046.4,1324.0C2049.2,1324.8 2051.0,1326.0 2053.8,1327.0C2056.6,1328.0 2060.1,1329.1 2063.3,1329.9C2066.6,1330.7 2069.9,1331.1 2073.2,1331.6C2076.5,1332.1 2079.8,1332.4 2083.1,1332.7C2086.4,1333.0 2089.8,1333.2 2093.1,1333.4C2096.4,1333.6 2099.7,1333.8 2103.1,1333.9C2106.4,1334.1 2109.7,1334.3 2113.1,1334.4C2116.4,1334.5 2120.5,1334.6 2123.1,1334.7C2125.6,1334.8 2127.6,1334.8 2128.6,1334.8"/>
<rect class="frame" x="1247.0" y="84.1" width="878.2" height="1279.4"/>
<rect class="tick" x="1248" y="1364" width="1" height="14"/>
<rect class="tick" x="1334" y="1364" width="1" height="28"/>
<rect class="tick" x="1419" y="1364" width="1" height="14"/>
<rect class="tick" x="1505" y="1364" width="1" height="28"/>
<rect class="tick" x="1591" y="1364" width="1" height="14"/>
<rect class="tick" x="1676" y="1364" width="1" height="28"/>
<rect class="tick" x="1762" y="1364" width="1" height="14"/>
<rect class="tick" x="1848" y="1364" width="1" height="28"/>
<rect class="tick" x="1933" y="1364" width="1" height="14"/>
<rect class="tick" x="2019" y="1364" width="1" height="28"/>
<rect class="tick" x="2104" y="1364" width="1" height="14"/>
<text x="1334.2" y="1460.9" font-size="69.3" text-anchor="middle">0</text>
<text x="1505.4" y="1460.9" font-size="69.3" text-anchor="middle">40</text>
<text x="1676.7" y="1460.9" font-size="69.3" text-anchor="middle">80</text>
<text x="1847.9" y="1460.9" font-size="69.3" text-anchor="middle">120</text>
<text x="2019.2" y="1460.9" font-size="69.3" text-anchor="middle">160</text>
<text x="1444.0" y="1537.5" font-size="68.95">Temperature (°C)</text>
<text transform="translate(1188.7,853.6) rotate(-90)" font-size="68.33">Endo up</text>
<text x="1281.2" y="183.1" font-size="69.56">B)</text>
<text x="1277.6" y="384.9" font-size="68.64">145°C</text>
<text x="1274.5" y="699.2" font-size="68.76">130°C</text>
<text x="1272.2" y="924.0" font-size="68.51">100°C</text>
<text x="1271.4" y="1100.3" font-size="69.72">65°C</text>
<text x="1274.4" y="1305.8" font-size="69.35">RT</text>
</g>
</svg>
</body>
</html>
